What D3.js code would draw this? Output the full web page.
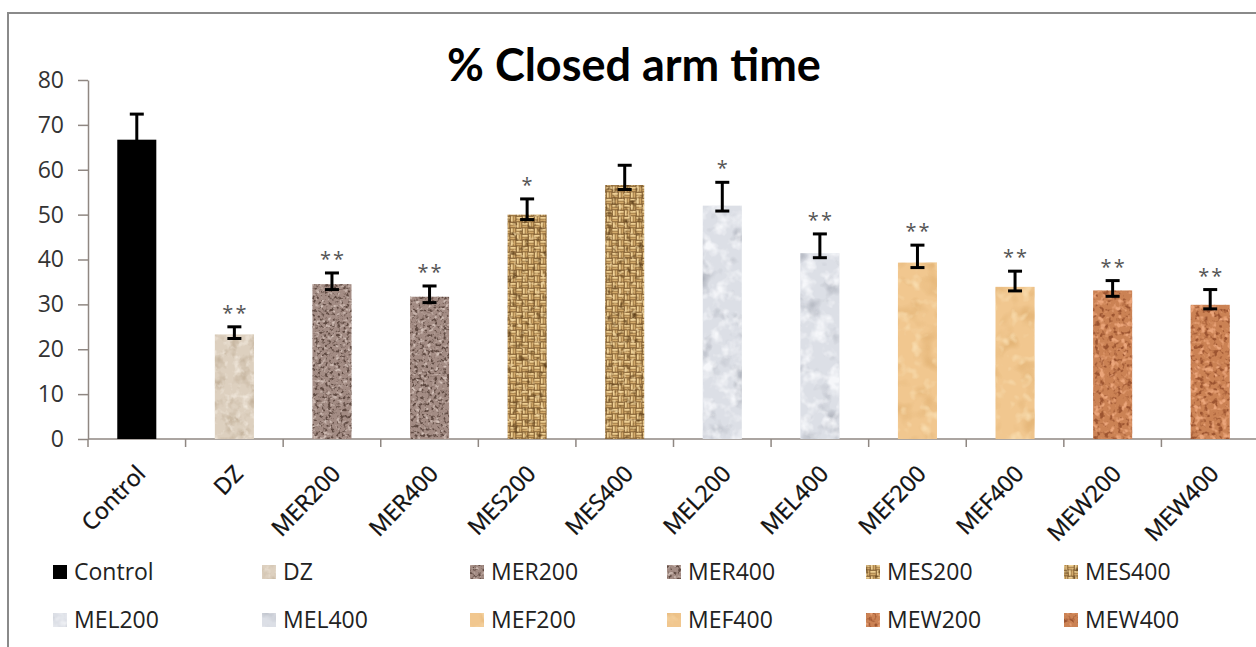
<!DOCTYPE html>
<html>
<head>
<meta charset="utf-8">
<script src="https://cdn.jsdelivr.net/npm/d3@7"></script>
<style>
  html, body { margin: 0; padding: 0; background: #ffffff; }
  svg { display: block; }
</style>
</head>
<body>
<svg id="chart" width="1256" height="647"></svg>
<script>
// ---------------- data ----------------
const categories = ["Control", "DZ", "MER200", "MER400", "MES200", "MES400",
                    "MEL200", "MEL400", "MEF200", "MEF400", "MEW200", "MEW400"];
const means      = [66.7, 23.3, 34.5, 31.7, 50.0, 56.6, 52.0, 41.4, 39.3, 33.9, 33.1, 29.9];
const errPlus    = [5.7, 1.7, 2.5, 2.4, 3.5, 4.4, 5.2, 4.3, 3.9, 3.5, 2.2, 3.4];
const errMinus   = [1.0, 0.9, 1.2, 1.3, 1.1, 1.0, 1.2, 1.0, 1.1, 0.9, 1.3, 0.9];
const signif     = ["", "**", "**", "**", "*", "", "*", "**", "**", "**", "**", "**"];
const yTicks     = [0, 10, 20, 30, 40, 50, 60, 70, 80];
const title      = "% Closed arm time";

// ---------------- styles ----------------
const textures = ["control", "dz", "mer", "mer", "mes", "mes", "mel", "mel", "mef", "mef", "mew", "mew"];
const legendX  = [53, 262, 470, 667, 866, 1064];
const FONT = "'Open Sans', 'Noto Sans', sans-serif";

const svg = d3.select("#chart");
const defs = svg.append("defs");

// noise-based texture filter: base colour + coloured speckles from turbulence
function noiseFilter(id, type, freq, oct, seed, layers) {
  const f = defs.append("filter").attr("id", id)
    .attr("x", 0).attr("y", 0).attr("width", 1).attr("height", 1)
    .attr("color-interpolation-filters", "sRGB");
  const names = [];
  layers.forEach((L, i) => {
    f.append("feTurbulence").attr("type", L.type || type).attr("baseFrequency", L.freq || freq)
      .attr("numOctaves", oct).attr("seed", seed + i * 7).attr("result", "t" + i);
    const c = d3.rgb(L.color);
    f.append("feColorMatrix").attr("in", "t" + i).attr("type", "matrix")
      .attr("values", `0 0 0 0 ${c.r/255}  0 0 0 0 ${c.g/255}  0 0 0 0 ${c.b/255}  ${L.k} 0 0 0 ${L.b}`)
      .attr("result", "c" + i);
    f.append("feComposite").attr("in", "c" + i).attr("in2", "SourceGraphic").attr("operator", "in")
      .attr("result", "m" + i);
    names.push("m" + i);
  });
  const merge = f.append("feMerge");
  merge.append("feMergeNode").attr("in", "SourceGraphic");
  names.forEach(n => merge.append("feMergeNode").attr("in", n));
}

noiseFilter("f-dz", "fractalNoise", 0.08, 3, 3, [
  { color: "#c4b39d", k: 3.0, b: -1.45 },
  { color: "#efe6da", k: 3.0, b: -1.55, freq: 0.12 }
]);
noiseFilter("f-mer", "fractalNoise", 0.32, 2, 11, [
  { color: "#5f4a42", k: 5.0, b: -2.55 },
  { color: "#d2c0b8", k: 4.0, b: -2.2, freq: 0.25 }
]);
noiseFilter("f-mel", "fractalNoise", 0.045, 3, 5, [
  { color: "#a9adb7", k: 2.6, b: -1.4 },
  { color: "#f6f7fa", k: 3.0, b: -1.4, freq: 0.07 }
]);
noiseFilter("f-mef", "fractalNoise", 0.05, 2, 8, [
  { color: "#e3b476", k: 3.0, b: -1.5 },
  { color: "#f8dcae", k: 3.0, b: -1.6, freq: 0.09 }
]);
noiseFilter("f-mew", "fractalNoise", 0.22, 2, 17, [
  { color: "#9c5430", k: 5.0, b: -2.6 },
  { color: "#eba57a", k: 4.5, b: -2.35, freq: 0.18 }
]);
noiseFilter("f-mes", "fractalNoise", 0.16, 2, 21, [
  { color: "#5e3f1a", k: 3.2, b: -1.8 },
  { color: "#f3d9a4", k: 3.0, b: -1.75, freq: 0.22 }
]);

// basket-weave pattern for MES (burlap)
const weave = defs.append("pattern").attr("id", "p-mes")
  .attr("patternUnits", "userSpaceOnUse").attr("width", 12).attr("height", 12);
weave.append("rect").attr("width", 12).attr("height", 12).attr("fill", "#7d5a2e");
[[0, 0, "h"], [6, 0, "v"], [0, 6, "v"], [6, 6, "h"]].forEach(([x, y, d]) => {
  if (d === "h") {
    weave.append("rect").attr("x", x + 0.3).attr("y", y + 0.8).attr("width", 5.4).attr("height", 2).attr("fill", "#efcf92");
    weave.append("rect").attr("x", x + 0.3).attr("y", y + 3.4).attr("width", 5.4).attr("height", 2).attr("fill", "#d3aa6a");
  } else {
    weave.append("rect").attr("x", x + 0.8).attr("y", y + 0.3).attr("width", 2).attr("height", 5.4).attr("fill", "#efcf92");
    weave.append("rect").attr("x", x + 3.4).attr("y", y + 0.3).attr("width", 2).attr("height", 5.4).attr("fill", "#d3aa6a");
  }
});

const texStyle = {
  control: { fill: "#000000", filter: null },
  dz:  { fill: "#ddd0bf", filter: "url(#f-dz)" },
  mer: { fill: "#a38c84", filter: "url(#f-mer)" },
  mes: { fill: "url(#p-mes)", filter: "url(#f-mes)" },
  mel: { fill: "#dcdfe6", filter: "url(#f-mel)" },
  mef: { fill: "#f1c78f", filter: "url(#f-mef)" },
  mew: { fill: "#cb8254", filter: "url(#f-mew)" }
};

// ---------------- frame ----------------
svg.append("rect").attr("x", 8).attr("y", 13).attr("width", 1270).attr("height", 660)
  .attr("fill", "#ffffff").attr("stroke", "#8a8a8a").attr("stroke-width", 2);

// ---------------- scales ----------------
const x = d3.scaleBand().domain(categories).range([88, 1259]).paddingInner(0).paddingOuter(0);
const y = d3.scaleLinear().domain([0, 80]).range([439, 80]);
const barW = x.bandwidth() * 0.4;

// ---------------- title ----------------
svg.append("text").attr("x", 634).attr("y", 81).attr("text-anchor", "middle")
  .attr("font-family", "Lato, 'Open Sans', sans-serif").attr("font-weight", "bold")
  .attr("font-size", 45).attr("fill", "#000").text(title);

// ---------------- y axis ----------------
const yAxis = svg.append("g").attr("transform", "translate(88,0)")
  .call(d3.axisLeft(y).tickValues(yTicks).tickSize(10).tickPadding(14).tickSizeOuter(0));
yAxis.select(".domain").attr("stroke", "#8f8782").attr("stroke-width", 1.5);
yAxis.selectAll(".tick line").attr("stroke", "#8f8782").attr("stroke-width", 1.5);
yAxis.selectAll(".tick text").attr("font-family", FONT).attr("font-size", 23).attr("fill", "#333");

// ---------------- x axis ----------------
const xAxisG = svg.append("g").attr("transform", `translate(0,${y(0)})`);
xAxisG.append("line").attr("x1", 88).attr("x2", 1260).attr("y1", 0).attr("y2", 0)
  .attr("stroke", "#8f8782").attr("stroke-width", 1.5);
const boundaries = categories.map(c => x(c));
xAxisG.selectAll("line.tk").data(boundaries).join("line").attr("class", "tk")
  .attr("x1", d => d).attr("x2", d => d).attr("y1", 0).attr("y2", 8)
  .attr("stroke", "#8f8782").attr("stroke-width", 1.5);
xAxisG.selectAll("text.lbl").data(categories).join("text").attr("class", "lbl")
  .attr("transform", d => `translate(${x(d) + x.bandwidth() / 2 + 10},${36}) rotate(-46)`)
  .attr("text-anchor", "end").attr("font-family", FONT).attr("font-size", 23)
  .attr("fill", "#111").attr("stroke", "#111").attr("stroke-width", 0.35).text(d => d);

// ---------------- bars ----------------
const rows = categories.map((c, i) => ({ c, v: means[i], ep: errPlus[i], em: errMinus[i], s: signif[i], t: textures[i] }));
svg.append("g").selectAll("rect").data(rows).join("rect")
  .attr("x", d => x(d.c) + (x.bandwidth() - barW) / 2)
  .attr("y", d => y(d.v))
  .attr("width", barW)
  .attr("height", d => y(0) - y(d.v))
  .attr("fill", d => texStyle[d.t].fill)
  .attr("filter", d => texStyle[d.t].filter);

// ---------------- error bars ----------------
const eb = svg.append("g").attr("stroke", "#000").attr("stroke-width", 3);
rows.forEach(d => {
  const cx = x(d.c) + x.bandwidth() / 2;
  const yt = y(d.v + d.ep), yb = y(d.v - d.em);
  eb.append("line").attr("x1", cx).attr("x2", cx).attr("y1", yt).attr("y2", yb);
  eb.append("line").attr("x1", cx - 7).attr("x2", cx + 7).attr("y1", yt).attr("y2", yt);
  eb.append("line").attr("x1", cx - 7).attr("x2", cx + 7).attr("y1", yb).attr("y2", yb);
});

// ---------------- significance marks ----------------
svg.append("g").selectAll("text").data(rows.filter(d => d.s)).join("text")
  .attr("x", d => x(d.c) + x.bandwidth() / 2 + 1)
  .attr("y", d => y(d.v + d.ep) - 7)
  .attr("text-anchor", "middle").attr("font-family", FONT).attr("font-size", 20)
  .attr("letter-spacing", 2).attr("fill", "#555").text(d => d.s);

// ---------------- legend ----------------
const leg = svg.append("g");
rows.forEach((d, i) => {
  const col = i % 6, row = Math.floor(i / 6);
  const lx = legendX[col], ly = 572 + row * 48;
  leg.append("rect").attr("x", lx).attr("y", ly - 7).attr("width", 14).attr("height", 14)
    .attr("fill", texStyle[d.t].fill).attr("filter", texStyle[d.t].filter);
  leg.append("text").attr("x", lx + 21).attr("y", ly + 8)
    .attr("font-family", FONT).attr("font-size", 23).attr("fill", "#222").text(d.c);
});
</script>
</body>
</html>
